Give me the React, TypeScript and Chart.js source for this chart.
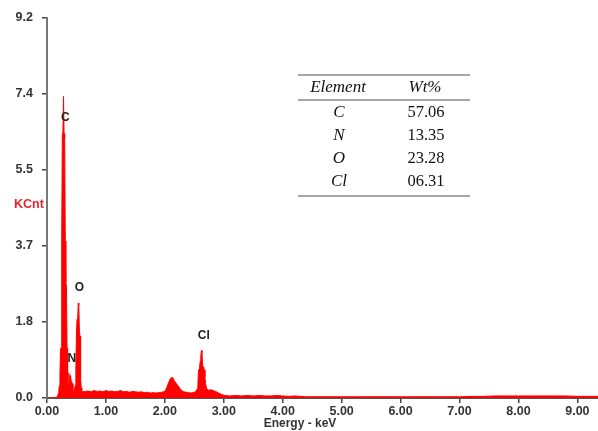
import { useEffect, useRef } from 'react';
import { Chart, registerables } from 'chart.js';

Chart.register(...registerables);

// ---- data ----
const energyKeV = [
  0.0, 0.1, 0.15, 0.17, 0.18, 0.19, 0.2, 0.21, 0.22, 0.23, 0.24, 0.25, 0.26, 0.27, 0.28, 0.29,
  0.3, 0.31, 0.32, 0.33, 0.34, 0.35, 0.36, 0.37, 0.38, 0.39, 0.4, 0.41, 0.42, 0.43, 0.44,
  0.45, 0.46, 0.47, 0.48, 0.49, 0.5, 0.51, 0.52, 0.53, 0.54, 0.55, 0.56, 0.57, 0.58, 0.59,
  0.6, 0.65, 0.7, 0.75, 0.8, 0.85, 0.9, 0.95, 1.0, 1.05, 1.1, 1.15, 1.2, 1.25, 1.3, 1.35,
  1.4, 1.45, 1.5, 1.55, 1.6, 1.65, 1.7, 1.75, 1.8, 1.85, 1.9, 1.95, 2.0, 2.03, 2.06, 2.09,
  2.12, 2.14, 2.16, 2.19, 2.22, 2.25, 2.28, 2.32, 2.36, 2.4, 2.44, 2.48, 2.52, 2.55, 2.56,
  2.57, 2.58, 2.59, 2.6, 2.61, 2.62, 2.63, 2.64, 2.65, 2.66, 2.67, 2.68, 2.69, 2.71, 2.74,
  2.78, 2.82, 2.86, 2.9, 2.94, 2.98,
  3.02, 3.1, 3.2, 3.3, 3.4, 3.5, 3.6, 3.7, 3.8, 3.9, 4.0, 4.1, 4.2, 4.4, 4.6, 4.8, 5.0,
  5.2, 5.4, 5.6, 5.8, 6.0, 6.2, 6.4, 6.6, 6.8, 7.0, 7.2, 7.4, 7.6, 7.8, 8.0, 8.2, 8.4,
  8.6, 8.8, 9.0, 9.2, 9.35,
];
const countsKCnt = [
  0.0, 0.0, 0.01, 0.03, 0.06, 0.1, 0.18, 0.3, 0.6, 1.2, 1.2, 3.8, 6.4, 6.45, 7.3, 6.4,
  6.3, 3.8, 2.8, 2.7, 1.2, 0.4, 0.3, 0.6, 0.45, 0.5, 0.55, 0.4, 0.3, 0.35, 0.2,
  0.18, 0.2, 0.25, 0.3, 0.7, 1.6, 1.9, 1.85, 2.3, 2.25, 1.6, 1.5, 0.5, 0.25, 0.17,
  0.15, 0.16, 0.17, 0.15, 0.18, 0.16, 0.17, 0.15, 0.18, 0.16, 0.17, 0.15, 0.16, 0.18, 0.15, 0.16,
  0.14, 0.16, 0.15, 0.14, 0.15, 0.13, 0.14, 0.12, 0.13, 0.12, 0.13, 0.14, 0.16, 0.24, 0.36, 0.46,
  0.5, 0.48, 0.42, 0.36, 0.3, 0.24, 0.19, 0.15, 0.14, 0.13, 0.12, 0.13, 0.15, 0.22, 0.3,
  0.65, 0.7, 0.75, 0.9, 1.0, 1.15, 1.1, 0.8, 0.75, 0.7, 0.68, 0.5, 0.35, 0.22, 0.19,
  0.2, 0.18, 0.16, 0.13, 0.1, 0.08,
  0.06, 0.05, 0.06, 0.05, 0.06, 0.05, 0.06, 0.05, 0.05, 0.06, 0.05, 0.04, 0.05, 0.03, 0.03, 0.03, 0.03,
  0.03, 0.03, 0.03, 0.03, 0.03, 0.03, 0.03, 0.03, 0.03, 0.03, 0.04, 0.04, 0.05, 0.05, 0.05, 0.05, 0.05,
  0.05, 0.05, 0.04, 0.04, 0.04,
];
const xTickValues = [0, 1, 2, 3, 4, 5, 6, 7, 8, 9];
const yTickValues = [0, 1.84, 3.68, 5.52, 7.36, 9.2];

const peakNames = ['C', 'N', 'O', 'Cl'];
const peakLabelKeV = [0.31, 0.42, 0.55, 2.66];
const peakLabelKCnt = [6.79, 0.96, 2.66, 1.5];

const tableElements = ['C', 'N', 'O', 'Cl'];
const tableWt = ['57.06', '13.35', '23.28', '06.31'];

const SANS = '"Liberation Sans", Arial, sans-serif';
const SERIF = '"Liberation Serif", "Times New Roman", serif';

const overlayPlugin = {
  id: 'overlay',
  afterDatasetsDraw(chart: any) {
    const ctx = chart.ctx as CanvasRenderingContext2D;
    const xs = chart.scales.x;
    const ys = chart.scales.y;
    ctx.save();
    // peak labels
    ctx.font = `bold 12px ${SANS}`;
    ctx.fillStyle = '#222';
    ctx.textAlign = 'center';
    ctx.textBaseline = 'middle';
    peakNames.forEach((n, i) => {
      ctx.fillText(n, xs.getPixelForValue(peakLabelKeV[i]), ys.getPixelForValue(peakLabelKCnt[i]));
    });
    // y title
    ctx.font = `bold 12.5px ${SANS}`;
    ctx.fillStyle = '#e8242a';
    ctx.textAlign = 'left';
    ctx.fillText('KCnt', 14, 205);
    // x title
    ctx.font = `bold 12px ${SANS}`;
    ctx.fillStyle = '#333';
    ctx.textAlign = 'center';
    ctx.fillText('Energy - keV', 300, 424);

    // table
    const left = 298, right = 470;
    ctx.strokeStyle = '#888';
    ctx.lineWidth = 1.5;
    [75, 100, 196].forEach((y) => {
      ctx.beginPath();
      ctx.moveTo(left, y);
      ctx.lineTo(right, y);
      ctx.stroke();
    });
    ctx.fillStyle = '#111';
    ctx.font = `italic 17px ${SERIF}`;
    ctx.fillText('Element', 338, 88);
    ctx.fillText('Wt%', 425, 88);
    tableElements.forEach((e, i) => {
      const y = 113 + i * 23;
      ctx.font = `italic 17px ${SERIF}`;
      ctx.fillText(e, 339, y);
      ctx.font = `16.5px ${SERIF}`;
      ctx.fillText(tableWt[i], 426, y);
    });
    ctx.restore();
  },
};

export default function App() {
  const ref = useRef<HTMLCanvasElement>(null);
  useEffect(() => {
    if (!ref.current) return;
    const points = energyKeV.map((x, i) => ({ x, y: countsKCnt[i] }));
    const tickFont = { family: SANS, size: 12.5, weight: 'bold' as const };
    const chart = new Chart(ref.current, {
      type: 'line',
      data: {
        datasets: [
          {
            data: points,
            borderColor: '#ff0000',
            backgroundColor: '#ff0000',
            borderWidth: 1,
            fill: 'origin',
            pointRadius: 0,
            tension: 0,
          },
        ],
      },
      options: {
        animation: false,
        responsive: false,
        devicePixelRatio: 1,
        layout: { padding: { top: 18, right: 0, left: 0, bottom: 0 } },
        plugins: { legend: { display: false }, tooltip: { enabled: false } },
        scales: {
          x: {
            type: 'linear',
            min: 0,
            max: 9.35,
            afterBuildTicks: (s: any) => {
              s.ticks = xTickValues.map((v) => ({ value: v }));
            },
            afterFit: (s: any) => {
              s.height = 33;
            },
            ticks: {
              callback: (v: any) => Number(v).toFixed(2),
              font: tickFont,
              color: '#333',
              padding: 1,
              maxRotation: 0,
              autoSkip: false,
            },
            grid: { display: true, drawOnChartArea: false, drawTicks: true, tickLength: 5, color: '#444', lineWidth: 1.5 },
            border: { display: true, color: '#555', width: 2 },
          },
          y: {
            type: 'linear',
            min: 0,
            max: 9.2,
            afterBuildTicks: (s: any) => {
              s.ticks = yTickValues.map((v) => ({ value: v }));
            },
            afterFit: (s: any) => {
              s.width = 47;
            },
            ticks: {
              callback: (v: any) => Number(v).toFixed(1),
              font: tickFont,
              color: '#333',
              padding: 9,
              autoSkip: false,
            },
            grid: { display: true, drawOnChartArea: false, drawTicks: true, tickLength: 5, color: '#444', lineWidth: 1.5 },
            border: { display: true, color: '#777', width: 2 },
          },
        },
      },
      plugins: [overlayPlugin],
    });
    return () => chart.destroy();
  }, []);
  return (
    <div style={{ position: 'fixed', left: 0, top: 0, width: 598, height: 431, background: '#fff' }}>
      <canvas ref={ref} width={598} height={431} />
    </div>
  );
}
